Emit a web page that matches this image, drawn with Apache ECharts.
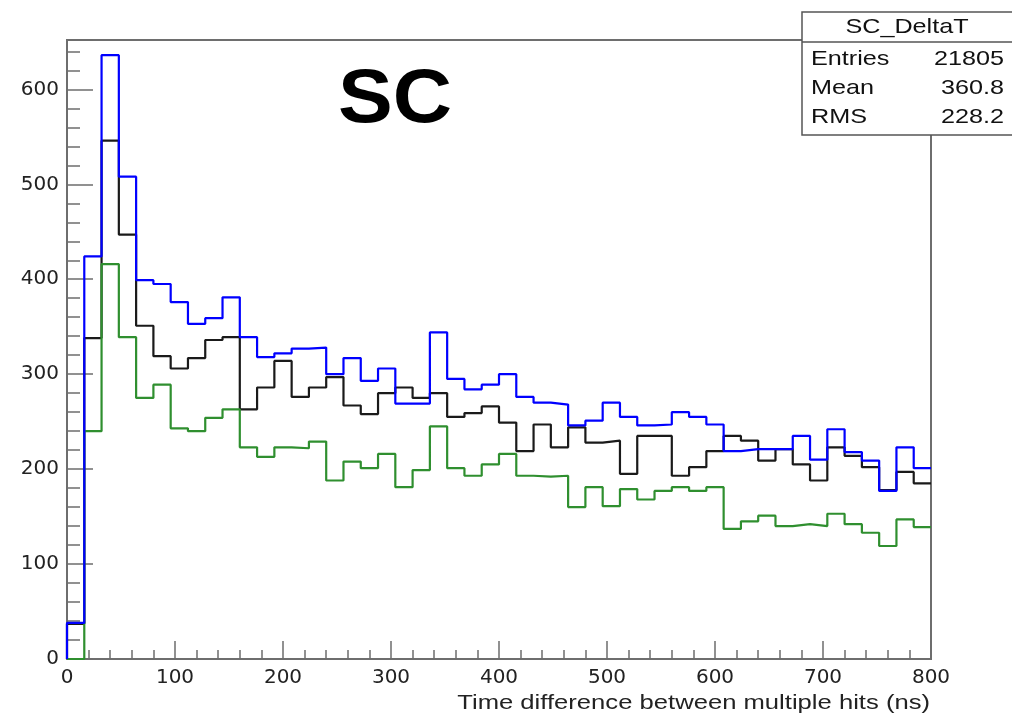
<!DOCTYPE html>
<html>
<head>
<meta charset="utf-8">
<script src="https://cdn.jsdelivr.net/npm/echarts@6/dist/echarts.min.js"></script>
<style>
html,body{margin:0;padding:0;background:#fff;}
#chart{width:1012px;height:718px;}
</style>
</head>
<body>
<div id="chart"></div>
<script>
// Bin lower edges (ns), bin width 16
const binLowEdges = [0,16,32,48,64,80,96,112,128,144,160,176,192,208,224,240,256,272,288,304,320,336,352,368,384,400,416,432,448,464,480,496,512,528,544,560,576,592,608,624,640,656,672,688,704,720,736,752,768,784];
const binWidth = 16;

const blueCounts = [38,424,636,508,399,395,376,353,359,381,339,318,322,327,328,300,317,293,306,269,269,344,295,284,289,300,276,270,268,246,251,270,255,246,247,260,255,247,219,221,221,221,235,210,242,218,209,177,223,201];
const blackCounts = [37,338,546,447,351,319,306,317,336,339,263,286,314,276,286,297,267,258,280,286,275,280,255,259,266,249,219,247,223,244,228,230,195,235,235,193,202,219,235,230,209,221,205,188,223,214,202,178,197,185];
const greenCounts = [0,240,416,339,275,289,243,240,254,263,223,213,223,222,229,188,208,201,216,181,199,245,201,193,205,216,193,192,193,160,181,161,179,168,177,181,177,181,137,145,151,140,142,140,153,142,133,119,147,139];

const xAxisTitle = 'Time difference between multiple hits (ns)';
const plotLabel = 'SC';
const statsTitle = 'SC_DeltaT';
const statsNames = ['Entries','Mean','RMS'];
const statsValues = ['21805','360.8','228.2'];

function histPoints(counts){
  const pts = [[binLowEdges[0], 0]];
  for (let i = 0; i < counts.length; i++){
    pts.push([binLowEdges[i], counts[i]]);
    pts.push([binLowEdges[i] + binWidth, counts[i]]);
  }
  return pts;
}

const chart = echarts.init(document.getElementById('chart'), null, {renderer:'canvas'});
const axisColor = '#6e6e6e';
const labelFont = 'DejaVu Sans';

const statsGraphics = [
  {type:'rect', shape:{x:802, y:12, width:215, height:123}, style:{fill:'#fff', stroke:'#555', lineWidth:1.5}, z:100},
  {type:'line', shape:{x1:802, y1:42, x2:1012, y2:42}, style:{stroke:'#555', lineWidth:1.5}, z:101},
  {type:'text', x:907, y:27, scaleX:1.2, style:{text:statsTitle, font:'21px "Liberation Sans"', fill:'#111', align:'center', verticalAlign:'middle'}, z:101}
];
const rowsY = [59, 88, 117];
statsNames.forEach((n, i) => {
  statsGraphics.push({type:'text', x:811, y:rowsY[i], scaleX:1.2, style:{text:n, font:'21px "Liberation Sans"', fill:'#111', align:'left', verticalAlign:'middle'}, z:101});
  statsGraphics.push({type:'text', x:1004, y:rowsY[i], scaleX:1.2, style:{text:statsValues[i], font:'21px "Liberation Sans"', fill:'#111', align:'right', verticalAlign:'middle'}, z:101});
});

const option = {
  animation:false,
  backgroundColor:'#fff',
  grid:{left:67, right:81, top:40, bottom:59, show:true, borderColor:axisColor, borderWidth:2, backgroundColor:'transparent'},
  xAxis:{
    type:'value', min:0, max:800, interval:100,
    axisLine:{show:true, onZero:false, lineStyle:{color:axisColor, width:2}},
    axisTick:{show:true, inside:true, length:18, lineStyle:{color:axisColor, width:1.5}},
    minorTick:{show:true, splitNumber:5, length:9, lineStyle:{color:axisColor, width:1.5}},
    splitLine:{show:false},
    axisLabel:{color:'#222', fontFamily:labelFont, fontSize:20, margin:9}
  },
  yAxis:{
    type:'value', min:0, max:652, interval:100,
    axisLine:{show:true, onZero:false, lineStyle:{color:axisColor, width:2}},
    axisTick:{show:true, inside:true, length:26, lineStyle:{color:axisColor, width:1.5}},
    minorTick:{show:true, splitNumber:5, length:13, lineStyle:{color:axisColor, width:1.5}},
    splitLine:{show:false},
    axisLabel:{color:'#222', fontFamily:labelFont, fontSize:20, margin:8,
      formatter:(v) => (v % 100 === 0 ? String(v) : '')}
  },
  series:[
    {type:'line', data:histPoints(blackCounts), symbol:'none', lineStyle:{color:'#1a1a1a', width:2.2}, z:2},
    {type:'line', data:histPoints(greenCounts), symbol:'none', lineStyle:{color:'#2f8f2f', width:2.2}, z:3},
    {type:'line', data:histPoints(blueCounts), symbol:'none', lineStyle:{color:'#0000ff', width:2.2}, z:4}
  ],
  graphic:[
    {type:'text', x:395, y:101, scaleX:1.08, style:{text:plotLabel, font:'bold 76px "Liberation Sans"', fill:'#000', align:'center', verticalAlign:'middle'}, z:50},
    {type:'text', x:930, y:703, scaleX:1.22, style:{text:xAxisTitle, font:'21px "Liberation Sans"', fill:'#222', align:'right', verticalAlign:'middle'}, z:50}
  ].concat(statsGraphics)
};
chart.setOption(option);
</script>
</body>
</html>
